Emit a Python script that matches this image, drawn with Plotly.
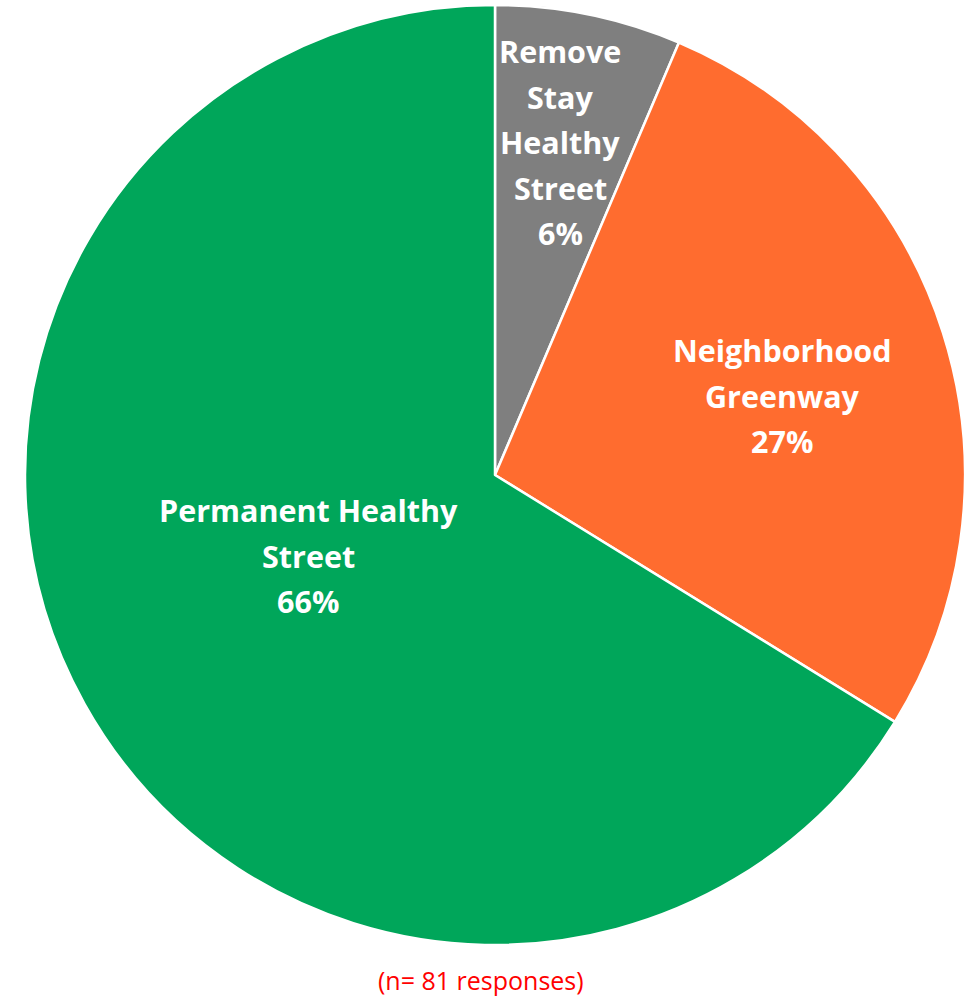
import plotly.graph_objects as go

labels = ["Remove Stay Healthy Street", "Neighborhood Greenway", "Permanent Healthy Street"]
label_lines = [["Remove", "Stay", "Healthy", "Street"], ["Neighborhood", "Greenway"], ["Permanent Healthy", "Street"]]
values = [6.4, 27.4, 66.2]
colors = ["#7F7F7F", "#FF6C2F", "#00A65A"]
note = "(n= 81 responses)"

W, H = 978, 998
cx, cy, r = 495, 475, 470

fig = go.Figure()
fig.add_trace(go.Pie(
    labels=labels, values=values, sort=False, direction="clockwise", rotation=0,
    marker=dict(colors=colors, line=dict(color="white", width=2.5)),
    textinfo="none", hoverinfo="label+percent", showlegend=False,
    domain=dict(x=[(cx - r) / W, (cx + r) / W], y=[(H - cy - r) / H, (H - cy + r) / H]),
))

# label anchor positions (pixels): center x, first line y, line spacing
label_pos = [(560, 51), (782, 350), (308, 510)]
spacing = 45.5
for lines, v, (px, py) in zip(label_lines, values, label_pos):
    for i, line in enumerate(lines + [f"{round(v)}%"]):
        y = py + i * spacing
        fig.add_annotation(
            x=px / W, y=1 - y / H, xref="paper", yref="paper",
            xanchor="center", yanchor="middle",
            text=f"<b>{line}</b>", showarrow=False, align="center",
            font=dict(family="Open Sans", size=30.5, color="white"),
        )

fig.add_annotation(x=481 / W, y=1 - 980 / H, xref="paper", yref="paper",
                   xanchor="center", yanchor="middle",
                   text=note, showarrow=False,
                   font=dict(family="Open Sans", size=25, color="#FF0000"))

fig.update_layout(width=W, height=H, margin=dict(l=0, r=0, t=0, b=0),
                  paper_bgcolor="white", plot_bgcolor="white")
fig.write_html("out.html", config={"displayModeBar": False},
               post_script="document.body.style.margin='0';")
